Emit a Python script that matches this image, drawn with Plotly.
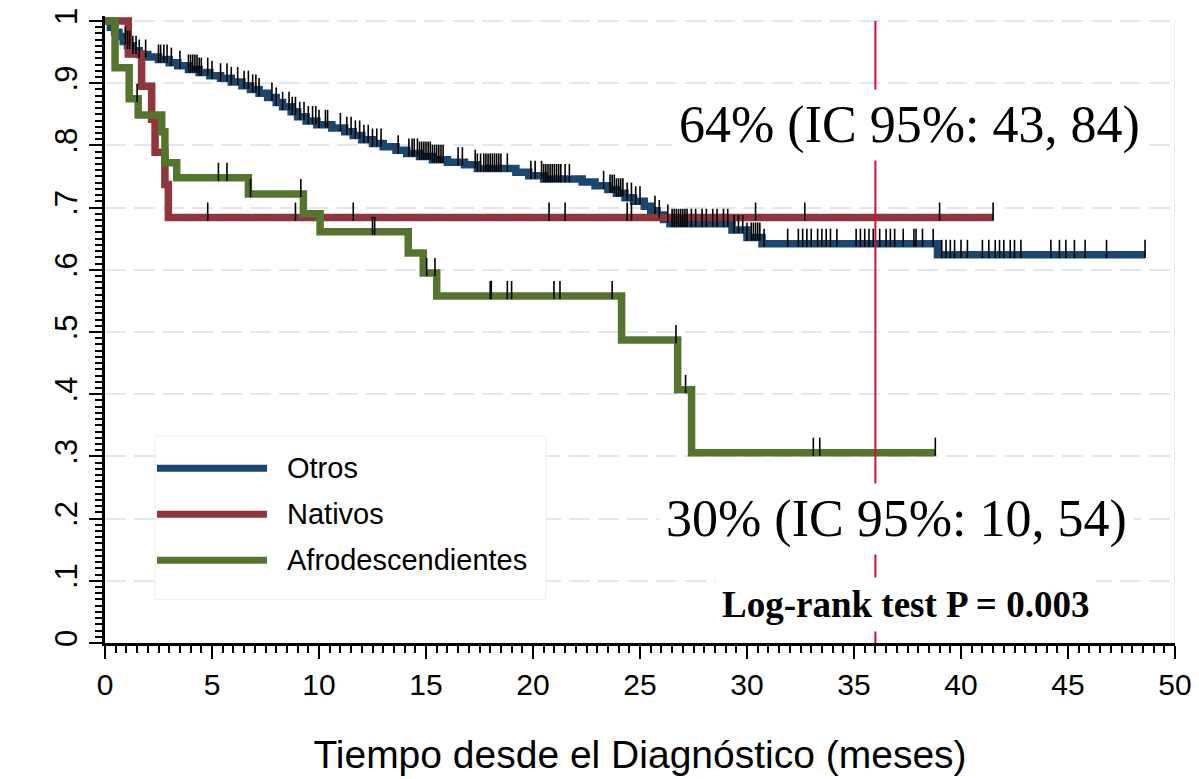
import numpy as np
import plotly.graph_objects as go

# Kaplan-Meier curves: step times (months) and survival after each step
otros_t = [0, 0.25, 0.45, 0.65, 0.85, 1.05, 1.3, 1.6, 2.0, 2.5, 3.0, 3.4, 3.9, 4.4, 4.9, 5.4,
           5.9, 6.4, 6.8, 7.2, 7.6, 8.0, 8.3, 8.7, 9.0, 9.4, 9.9, 10.6, 11.2, 11.6, 12.0, 12.5,
           13.0, 13.6, 14.1, 14.7, 15.3, 16.0, 16.8, 17.4, 19.2, 19.8, 20.5, 22.3, 22.9, 23.5,
           23.9, 24.3, 24.7, 25.2, 25.5, 25.8, 26.1, 26.4, 29.3, 30.0, 30.7, 38.9]
otros_s = [1.0, 0.99, 0.982, 0.975, 0.967, 0.96, 0.952, 0.946, 0.942, 0.938, 0.933, 0.928,
           0.922, 0.917, 0.912, 0.908, 0.902, 0.896, 0.89, 0.884, 0.877, 0.869, 0.862, 0.854,
           0.846, 0.839, 0.833, 0.828, 0.822, 0.816, 0.809, 0.803, 0.798, 0.792, 0.787, 0.782,
           0.777, 0.773, 0.769, 0.763, 0.757, 0.751, 0.746, 0.741, 0.735, 0.729, 0.723, 0.716,
           0.71, 0.702, 0.695, 0.688, 0.681, 0.674, 0.664, 0.652, 0.642, 0.624]
otros_end = 48.6
otros_cens = [0.95, 1.05, 1.15, 1.3, 1.45, 1.6, 1.9, 2.5, 2.6, 2.75, 2.9, 3.1, 3.5, 3.9, 4.0,
              4.1, 4.2, 4.3, 4.4, 4.5, 4.8, 5.0, 5.4, 5.7, 5.9, 6.2, 6.5, 6.7, 6.9, 7.05, 7.2,
              7.8, 8.0, 8.3, 8.6, 8.75, 8.9, 9.1, 9.3, 9.5, 9.7, 9.85, 10.0, 10.3, 10.4, 11.0,
              11.3, 11.5, 11.7, 11.9, 12.1, 12.3, 12.5, 12.7, 12.9, 13.7, 14.2, 14.35, 14.45,
              14.6, 14.7, 14.8, 14.9, 15.0, 15.1, 15.2, 15.3, 15.4, 15.5, 15.6, 15.7, 15.8,
              16.5, 16.7, 17.3, 17.4, 17.55, 17.7, 17.8, 17.9, 18.0, 18.1, 18.2, 18.3, 18.4,
              18.5, 18.8, 19.9, 20.1, 20.4, 20.5, 20.6, 20.7, 20.8, 20.9, 21.0, 21.1, 21.2,
              21.3, 21.5, 21.7, 23.3, 23.6, 23.7, 23.8, 23.9, 24.0, 24.1, 24.2, 24.4, 24.6,
              24.8, 25.0, 25.7, 25.9, 26.3, 26.5, 26.6, 26.7, 26.8, 26.9, 27.0, 27.1, 27.2,
              27.4, 27.6, 27.9, 28.1, 28.4, 28.6, 28.9, 29.1, 29.4, 29.6, 29.8, 30.0, 30.2,
              30.3, 30.4, 30.5, 30.6, 30.8, 31.9, 32.4, 32.6, 32.8, 33.0, 33.3, 33.5, 33.7,
              33.9, 34.2, 35.1, 35.3, 35.5, 35.7, 35.9, 36.2, 36.5, 36.7, 36.9, 37.3, 37.8,
              37.9, 38.2, 38.7, 39.1, 39.3, 39.5, 39.7, 40.0, 40.3, 41.0, 41.3, 41.6, 41.8,
              42.0, 42.3, 42.5, 42.8, 44.2, 44.6, 44.9, 45.3, 45.8, 46.8, 48.6]

nativos_t = [0, 1.09, 1.71, 2.18, 2.34, 2.80, 2.96]
nativos_s = [1.0, 0.947, 0.895, 0.842, 0.789, 0.737, 0.684]
nativos_end = 41.5
nativos_cens = [4.8, 8.9, 11.6, 20.75, 21.5, 24.4, 24.6, 30.4, 32.7, 39.0, 41.5]

afro_t = [0, 0.47, 1.13, 1.55, 2.65, 2.8, 3.35, 6.7, 9.27, 10.05, 14.17, 14.87, 15.5,
          24.14, 26.76, 27.41]
afro_s = [1.0, 0.925, 0.875, 0.849, 0.822, 0.772, 0.748, 0.722, 0.69, 0.661, 0.627, 0.595,
          0.558, 0.487, 0.407, 0.306]
afro_end = 38.8
afro_cens = [1.5, 5.3, 5.7, 6.8, 9.15, 12.5, 12.6, 15.03, 15.42, 18.0, 18.05, 18.8, 19.0,
             20.98, 21.26, 23.7, 26.68, 27.13, 33.1, 33.4, 38.8]

groups = ["Otros", "Nativos", "Afrodescendientes"]
colors = ["#1a476f", "#90353b", "#55752f"]
y_ticks = [0, 0.1, 0.2, 0.3, 0.4, 0.5, 0.6, 0.7, 0.8, 0.9, 1.0]
y_ticktext = ["0", ".1", ".2", ".3", ".4", ".5", ".6", ".7", ".8", ".9", "1"]
x_ticks = [0, 5, 10, 15, 20, 25, 30, 35, 40, 45, 50]

curves = [(otros_t, otros_s, otros_end, otros_cens),
          (nativos_t, nativos_s, nativos_end, nativos_cens),
          (afro_t, afro_s, afro_end, afro_cens)]

fig = go.Figure()

for (t, s, end, _), name, col in zip(curves, groups, colors):
    fig.add_trace(go.Scatter(x=t + [end], y=s + [s[-1]], mode="lines", line_shape="hv",
                             line=dict(color=col, width=7.5), name=name, showlegend=False))

# censoring ticks, sitting on top of each curve
for (t, s, end, cens), name in zip(curves, groups):
    idx = np.searchsorted(t, cens, side="right") - 1
    yc = np.array(s)[idx] + 0.0095
    fig.add_trace(go.Scatter(x=cens, y=yc, mode="markers", showlegend=False, hoverinfo="skip",
                             marker=dict(symbol="line-ns", size=13,
                                         line=dict(color="black", width=1.6))))

grid_col = "#dfe7ef"
shapes = [
    dict(type="line", xref="x", yref="y", x0=50, x1=50, y0=0, y1=1,
         line=dict(color=grid_col, width=1.5), layer="between"),
    dict(type="line", xref="x", yref="y", x0=36, x1=36, y0=0, y1=1,
         line=dict(color="#d0103a", width=2), layer="above"),
    # legend box
    dict(type="rect", xref="x", yref="y", x0=2.34, x1=20.6, y0=0.070, y1=0.333,
         line=dict(color="#f0f0f0", width=1), fillcolor="white", layer="between"),
]
leg_y = [0.281, 0.207, 0.133]
for name, col, ly in zip(groups, colors, leg_y):
    shapes.append(dict(type="line", xref="x", yref="y", x0=2.43, x1=7.57, y0=ly, y1=ly,
                       line=dict(color=col, width=7), layer="above"))

annotations = []
for name, ly in zip(groups, leg_y):
    annotations.append(dict(x=8.41, y=ly, xref="x", yref="y", text=name, showarrow=False,
                            xanchor="left", yanchor="middle",
                            font=dict(family="Liberation Sans, Arial", size=29, color="black")))

serif = "Liberation Serif, Times New Roman"
annotations += [
    dict(x=37.6, y=0.832, xref="x", yref="y", text="64% (IC 95%: 43, 84)", showarrow=False,
         font=dict(family=serif, size=52, color="black"), bgcolor="white", borderpad=6),
    dict(x=37.0, y=0.200, xref="x", yref="y", text="30% (IC 95%: 10, 54)", showarrow=False,
         font=dict(family=serif, size=52, color="black"), bgcolor="white", borderpad=6),
    dict(x=37.4, y=0.0625, xref="x", yref="y", text="<b>Log-rank test P = 0.003</b>",
         showarrow=False, font=dict(family=serif, size=37, color="black"),
         bgcolor="white", borderpad=6),
]

# the page body has an 8px margin, so the figure is 8px smaller each way
fig.update_layout(
    width=1191, height=771,
    margin=dict(l=97, r=24, t=0, b=136),
    plot_bgcolor="white", paper_bgcolor="white",
    font=dict(family="Liberation Sans, Arial", color="black"),
    shapes=shapes, annotations=annotations,
    xaxis=dict(range=[0, 50], tickvals=x_ticks, showgrid=False, zeroline=False,
               showline=True, linecolor="black", linewidth=2.5,
               ticks="outside", ticklen=13, tickwidth=2, tickcolor="black",
               tickfont=dict(size=30), ticklabeloverflow="allow",
               minor=dict(dtick=0.5, ticks="outside", ticklen=7, tickwidth=1.5,
                          tickcolor="black", showgrid=False),
               title=dict(text="Tiempo desde el Diagnóstico (meses)", font=dict(size=39),
                          standoff=41)),
    yaxis=dict(range=[0, 1.008], tickvals=y_ticks, ticktext=y_ticktext, tickangle=-90,
               showgrid=True, gridcolor=grid_col, gridwidth=1.5, griddash="21px,8px",
               zeroline=False, showline=True, linecolor="black", linewidth=2.5,
               ticks="outside", ticklen=13, tickwidth=2, tickcolor="black",
               tickfont=dict(size=31), ticklabeloverflow="allow",
               minor=dict(tickvals=[round(v * 0.01, 2) for v in range(101)],
                          ticks="outside", ticklen=7, tickwidth=1.5,
                          tickcolor="black", showgrid=False)),
)

fig.write_html("out.html")
